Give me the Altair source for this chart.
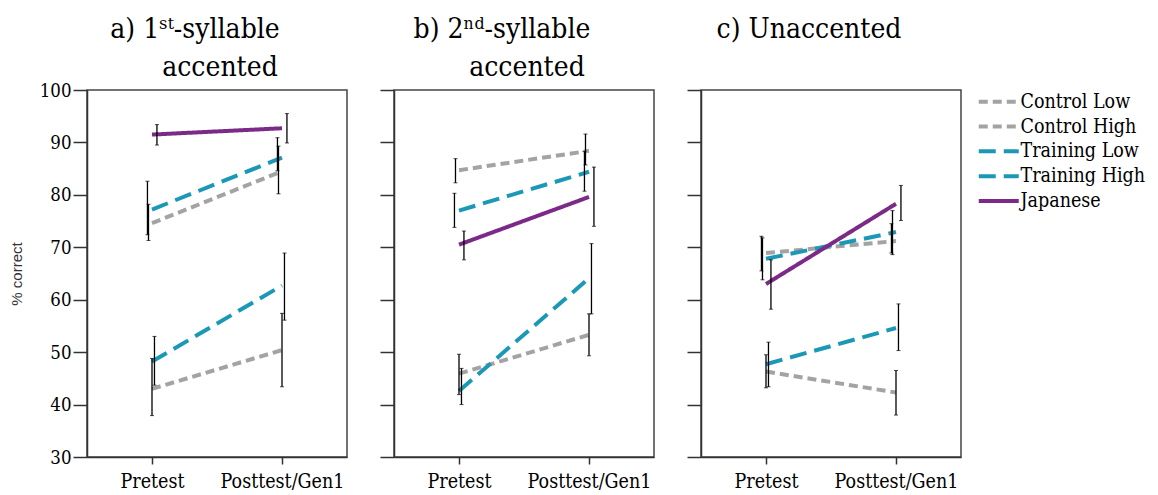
import altair as alt
import pandas as pd

panels = ["a", "b", "c"]
title_line1 = ["a) 1ˢᵗ-syllable", "b) 2ⁿᵈ-syllable", "c) Unaccented"]
title_line2 = ["accented", "accented", ""]
groups = ["Control Low", "Control High", "Training Low", "Training High", "Japanese"]
conditions = ["Pretest", "Posttest/Gen1"]

# values per panel, per group: [pre, post]
means = {
    "a": [[43.0, 50.4], [74.6, 84.5], [48.2, 62.7], [77.2, 87.1], [91.5, 92.7]],
    "b": [[45.9, 53.3], [84.7, 88.4], [42.6, 64.1], [77.0, 84.4], [70.5, 79.6]],
    "c": [[46.3, 42.3], [68.9, 71.2], [47.7, 54.6], [67.8, 72.9], [63.0, 78.3]],
}
err_low = {
    "a": [[37.9, 43.4], [71.3, 80.2], [43.7, 56.1], [72.4, 84.6], [89.5, 89.9]],
    "b": [[41.9, 49.3], [82.3, 85.7], [40.0, 57.3], [73.8, 80.7], [67.6, 74.0]],
    "c": [[43.2, 38.0], [63.8, 68.6], [43.4, 50.3], [65.5, 68.9], [58.2, 75.1]],
}
err_high = {
    "a": [[48.8, 57.4], [78.2, 89.3], [53.0, 68.9], [82.6, 90.9], [93.4, 95.5]],
    "b": [[49.6, 57.3], [86.9, 91.6], [46.9, 70.7], [80.3, 88.3], [73.1, 85.3]],
    "c": [[49.5, 46.5], [71.8, 77.0], [51.9, 59.2], [72.1, 74.5], [67.6, 81.8]],
}
# small horizontal dodge of the error bars per group (in condition units)
dodge = [0.0, -0.027, 0.019, -0.035, 0.038]

colors = ["#a3a3a3", "#a3a3a3", "#1b98b6", "#1b98b6", "#7b2a88"]
dashes = [[9, 5], [9, 5], [17, 8], [17, 8], [1, 0]]

SERIF = "DejaVu Serif Condensed, DejaVu Serif"

rows = []
for p in panels:
    for gi, g in enumerate(groups):
        for ci, c in enumerate(conditions):
            rows.append({
                "panel": p, "group": g, "order": gi, "cond": ci,
                "value": means[p][gi][ci],
                "lo": err_low[p][gi][ci], "hi": err_high[p][gi][ci],
                "xe": ci + dodge[gi],
            })
df = pd.DataFrame(rows)

color_scale = alt.Scale(domain=groups, range=colors)
dash_scale = alt.Scale(domain=groups, range=dashes)
xscale = alt.Scale(domain=[-0.5, 1.5], nice=False, zero=False)
yscale = alt.Scale(domain=[30, 100], nice=False, zero=False)

def panel(i, p):
    d = df[df.panel == p]
    base = alt.Chart(d)
    if i == 0:
        yaxis = alt.Axis(values=list(range(30, 101, 10)), title="% correct",
                         titleFont="Liberation Sans", titleFontSize=15,
                         titleFontWeight="normal", titleColor="#333", titlePadding=15)
    else:
        yaxis = alt.Axis(values=list(range(30, 101, 10)), title=None, labels=False)
    xaxis = alt.Axis(values=[0, 1], title=None, tickSize=7,
                     labelExpr="datum.value == 0 ? 'Pretest' : 'Posttest/Gen1'")
    lines = base.mark_line(strokeWidth=4).encode(
        x=alt.X("cond:Q", scale=xscale, axis=xaxis),
        y=alt.Y("value:Q", scale=yscale, axis=yaxis),
        color=alt.Color("group:N", scale=color_scale, sort=groups,
                        legend=alt.Legend(title=None)),
        strokeDash=alt.StrokeDash("group:N", scale=dash_scale, sort=groups,
                                  legend=alt.Legend(title=None)),
        detail="group:N",
        order="cond:Q",
    )
    bars = base.mark_rule(color="black", strokeWidth=1.3).encode(
        x="xe:Q", y="lo:Q", y2="hi:Q")
    caps_lo = base.mark_tick(color="black", orient="horizontal", size=4, thickness=1).encode(
        x="xe:Q", y="lo:Q")
    caps_hi = base.mark_tick(color="black", orient="horizontal", size=4, thickness=1).encode(
        x="xe:Q", y="hi:Q")
    t1 = alt.Chart(pd.DataFrame({"t": [title_line1[i]]})).mark_text(
        font=SERIF, fontSize=28, color="black", align="center", baseline="middle"
    ).encode(x=alt.value(108), y=alt.value(-60), text="t:N")
    layers = [lines, bars, caps_lo, caps_hi, t1]
    if title_line2[i]:
        t2 = alt.Chart(pd.DataFrame({"t": [title_line2[i]]})).mark_text(
            font=SERIF, fontSize=28, color="black", align="center", baseline="middle"
        ).encode(x=alt.value(133), y=alt.value(-22), text="t:N")
        layers.append(t2)
    return alt.layer(*layers).properties(width=260, height=367)

chart = alt.hconcat(*[panel(i, p) for i, p in enumerate(panels)], spacing=30).properties(
    padding={"left": 8, "top": 15, "right": 5, "bottom": 5}
).configure_view(
    stroke="#444", strokeWidth=1.5
).configure_axis(
    grid=False, domainColor="#333", domainWidth=1.5, tickColor="#333", tickWidth=1.5,
    labelFont=SERIF, labelFontSize=18.5, labelColor="black",
    tickSize=14, labelPadding=2,
).configure_axisX(
    tickSize=7, labelPadding=8, labelFontSize=19.5,
).configure_legend(
    orient="right", offset=25, padding=2, labelFont=SERIF, labelFontSize=19.5,
    labelColor="black", symbolType="M-4,0L4,0", symbolSize=100, symbolStrokeWidth=4,
    rowPadding=3.8, labelOffset=12,
).configure_concat(spacing=30)

chart.save("out.html", embed_options={"renderer": "svg", "actions": False})
